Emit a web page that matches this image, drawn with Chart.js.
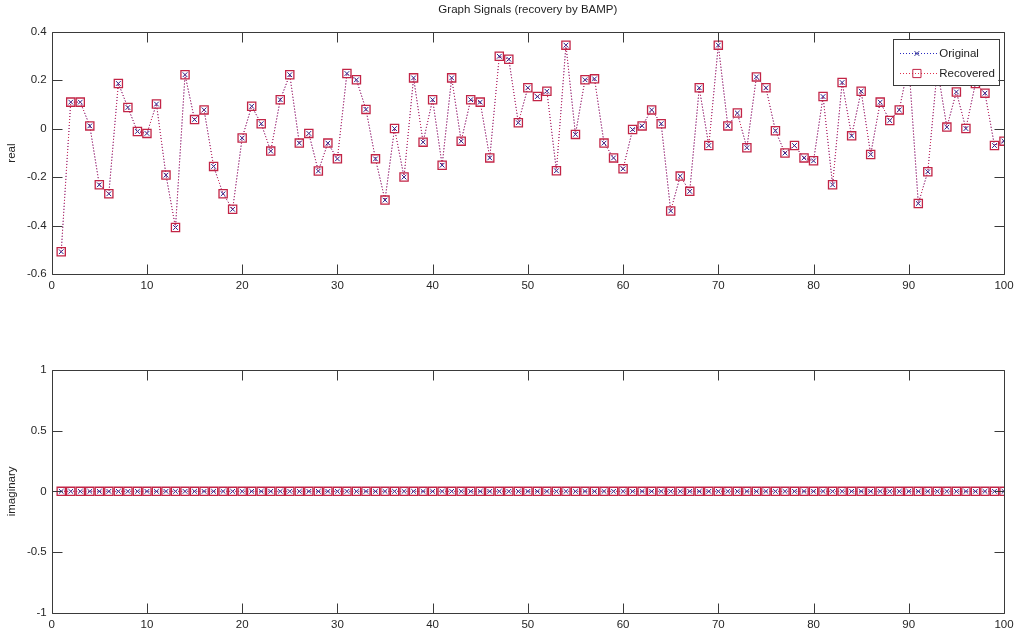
<!DOCTYPE html>
<html>
<head>
<meta charset="utf-8">
<title>Graph Signals (recovery by BAMP)</title>
<script src="https://cdn.jsdelivr.net/npm/chart.js@4/dist/chart.umd.min.js"></script>
<style>
  html, body { margin: 0; padding: 0; background: #fff; }
  #wrap { position: relative; width: 1015px; height: 631px; overflow: hidden; }
  canvas { position: absolute; left: 0; display: block; }
  #realChart { top: 0; }
  #imagChart { top: 300px; }
</style>
</head>
<body>
<div id="wrap">
  <canvas id="realChart" width="1015" height="300"></canvas>
  <canvas id="imagChart" width="1015" height="331"></canvas>
</div>
<script>
// sample index n = 1..100
const sampleIndex = Array.from({ length: 100 }, (_, i) => i + 1);

// real part of the signal (original and recovered coincide)
const realPart = [
  -0.507, 0.110, 0.110, 0.012, -0.231, -0.268, 0.187, 0.088, -0.011, -0.019,
  0.102, -0.191, -0.407, 0.223, 0.038, 0.078, -0.155, -0.268, -0.332, -0.038,
  0.093, 0.021, -0.092, 0.120, 0.223, -0.059, -0.019, -0.174, -0.059, -0.124,
  0.228, 0.202, 0.080, -0.124, -0.294, 0.001, -0.199, 0.210, -0.055, 0.120,
  -0.150, 0.210, -0.051, 0.120, 0.110, -0.120, 0.299, 0.287, 0.025, 0.169,
  0.133, 0.155, -0.173, 0.345, -0.023, 0.202, 0.206, -0.059, -0.120, -0.165,
  -0.003, 0.012, 0.078, 0.021, -0.339, -0.195, -0.258, 0.169, -0.069, 0.345,
  0.012, 0.065, -0.078, 0.214, 0.169, -0.008, -0.100, -0.069, -0.120, -0.132,
  0.133, -0.231, 0.191, -0.029, 0.155, -0.106, 0.110, 0.034, 0.078, 0.270,
  -0.308, -0.177, 0.250, 0.007, 0.152, 0.001, 0.187, 0.147, -0.069, -0.051
];

// imaginary part (all zero)
const imagPart = [
  0, 0, 0, 0, 0, 0, 0, 0, 0, 0, 0, 0, 0, 0, 0, 0, 0, 0, 0, 0,
  0, 0, 0, 0, 0, 0, 0, 0, 0, 0, 0, 0, 0, 0, 0, 0, 0, 0, 0, 0,
  0, 0, 0, 0, 0, 0, 0, 0, 0, 0, 0, 0, 0, 0, 0, 0, 0, 0, 0, 0,
  0, 0, 0, 0, 0, 0, 0, 0, 0, 0, 0, 0, 0, 0, 0, 0, 0, 0, 0, 0,
  0, 0, 0, 0, 0, 0, 0, 0, 0, 0, 0, 0, 0, 0, 0, 0, 0, 0, 0, 0
];

const seriesNames = ['Original', 'Recovered'];
const xTicks = [0, 10, 20, 30, 40, 50, 60, 70, 80, 90, 100];
const realTicks = [-0.6, -0.4, -0.2, 0, 0.2, 0.4];
const imagTicks = [-1, -0.5, 0, 0.5, 1];

const FONT = '"Liberation Sans", Arial, Helvetica, sans-serif';
Chart.defaults.font.family = FONT;
Chart.defaults.font.size = 11.5;
Chart.defaults.color = '#262626';

const AXIS_COLOR = '#3a3a3a';
const BLUE = '#2a2ac0';
const RED = '#e0304c';

// matlab style box with inward ticks on all four sides
const boxTicks = {
  id: 'boxTicks',
  afterDraw(chart) {
    const { ctx, chartArea: a, scales: { x, y } } = chart;
    const L = Math.round(a.left) + 0.5, R = Math.round(a.right) + 0.5;
    const T = Math.round(a.top) + 0.5, B = Math.round(a.bottom) + 0.5;
    const len = 10;
    ctx.save();
    ctx.strokeStyle = AXIS_COLOR;
    ctx.lineWidth = 1;
    ctx.beginPath();
    ctx.rect(L, T, R - L, B - T);
    x.ticks.forEach(t => {
      const px = Math.round(x.getPixelForValue(t.value)) + 0.5;
      ctx.moveTo(px, B); ctx.lineTo(px, B - len);
      ctx.moveTo(px, T); ctx.lineTo(px, T + len);
    });
    y.ticks.forEach(t => {
      const py = Math.round(y.getPixelForValue(t.value)) + 0.5;
      ctx.moveTo(L, py); ctx.lineTo(L + len, py);
      ctx.moveTo(R, py); ctx.lineTo(R - len, py);
    });
    ctx.stroke();
    ctx.restore();
  }
};

// boxed legend in the upper right corner of the axes
const boxLegend = {
  id: 'boxLegend',
  afterDraw(chart, args, opts) {
    if (!opts.show) return;
    const { ctx, chartArea: a } = chart;
    const w = 105.6, h = 45.7;
    const left = a.right - 5.7 - w, top = a.top + 7.6;
    ctx.save();
    ctx.fillStyle = '#fff';
    ctx.fillRect(left, top, w, h);
    ctx.strokeStyle = AXIS_COLOR;
    ctx.lineWidth = 1;
    ctx.strokeRect(Math.round(left) + 0.5, Math.round(top) + 0.5, Math.round(w), Math.round(h));
    chart.data.datasets.forEach((ds, i) => {
      const cy = Math.round(top + 14 + i * 19.4) + 0.5;
      ctx.strokeStyle = ds.borderColor;
      ctx.lineWidth = 1;
      ctx.setLineDash(ds.borderDash);
      ctx.beginPath();
      ctx.moveTo(left + 7.3, cy);
      ctx.lineTo(left + 45.6, cy);
      ctx.stroke();
      ctx.setLineDash([]);
      ctx.strokeStyle = ds.pointBorderColor;
      ctx.fillStyle = 'rgba(0,0,0,0)';
      Chart.helpers.drawPoint(ctx, {
        pointStyle: ds.pointStyle, rotation: 0,
        radius: ds.pointRadius, borderWidth: ds.pointBorderWidth
      }, left + 24.2, cy);
      ctx.fillStyle = '#1e1e1e';
      ctx.font = '11.5px ' + FONT;
      ctx.textBaseline = 'middle';
      ctx.textAlign = 'left';
      ctx.fillText(ds.label, left + 46.6, cy);
    });
    ctx.restore();
  }
};

function makeDatasets(values) {
  const pts = sampleIndex.map((n, i) => ({ x: n, y: values[i] }));
  return [
    {
      label: seriesNames[0], data: pts, order: 1,
      borderColor: BLUE, borderWidth: 1, borderDash: [1, 2],
      pointStyle: 'crossRot', pointRadius: 3.3, pointBorderWidth: 1,
      pointBorderColor: '#24248a', pointBackgroundColor: 'rgba(0,0,0,0)',
      fill: false, tension: 0
    },
    {
      label: seriesNames[1], data: pts, order: 0,
      borderColor: RED, borderWidth: 1, borderDash: [1, 2],
      pointStyle: 'rect', pointRadius: 5.8, pointBorderWidth: 1.3,
      pointBorderColor: '#c22446', pointBackgroundColor: 'rgba(0,0,0,0)',
      fill: false, tension: 0
    }
  ];
}

function tickList(list) {
  return scale => { scale.ticks = list.map(v => ({ value: v })); };
}

function makeConfig(values, yTicks, yTitle, opt) {
  return {
    type: 'line',
    data: { datasets: makeDatasets(values) },
    options: {
      responsive: false,
      animation: false,
      events: [],
      layout: { padding: { left: 0, right: 11, top: opt.padTop, bottom: 0 } },
      plugins: {
        legend: { display: false },
        tooltip: { enabled: false },
        title: {
          display: !!opt.title, text: opt.title || '', fullSize: false,
          color: '#1e1e1e', font: { size: 11.5, weight: 'normal' },
          padding: { top: 3, bottom: 15 }
        },
        boxLegend: { show: !!opt.legend }
      },
      scales: {
        x: {
          type: 'linear', min: 0, max: 100,
          afterBuildTicks: tickList(xTicks),
          afterFit: s => { s.height = opt.xHeight; s.paddingLeft = 0; s.paddingRight = 0; },
          grid: { display: false, drawTicks: false },
          border: { display: false },
          ticks: { padding: 5, maxRotation: 0, autoSkip: false, color: '#262626',
                   callback: v => String(v) }
        },
        y: {
          min: yTicks[0], max: yTicks[yTicks.length - 1],
          afterBuildTicks: tickList(yTicks),
          afterFit: s => { s.width = 51.7; s.paddingTop = 0; s.paddingBottom = 0; },
          grid: { display: false, drawTicks: false },
          border: { display: false },
          title: { display: true, text: yTitle, color: '#262626',
                   font: { size: 11.5 }, padding: { top: 5, bottom: 0 } },
          ticks: { padding: 5, autoSkip: false, color: '#262626',
                   callback: v => String(Math.round(v * 100) / 100) }
        }
      }
    },
    plugins: [boxTicks, boxLegend]
  };
}

new Chart(document.getElementById('realChart'),
  makeConfig(realPart, realTicks, 'real',
    { padTop: 0, xHeight: 25.7, title: 'Graph Signals (recovery by BAMP)', legend: true }));

new Chart(document.getElementById('imagChart'),
  makeConfig(imagPart, imagTicks, 'imaginary',
    { padTop: 70, xHeight: 18.3, title: null, legend: false }));
</script>
</body>
</html>
